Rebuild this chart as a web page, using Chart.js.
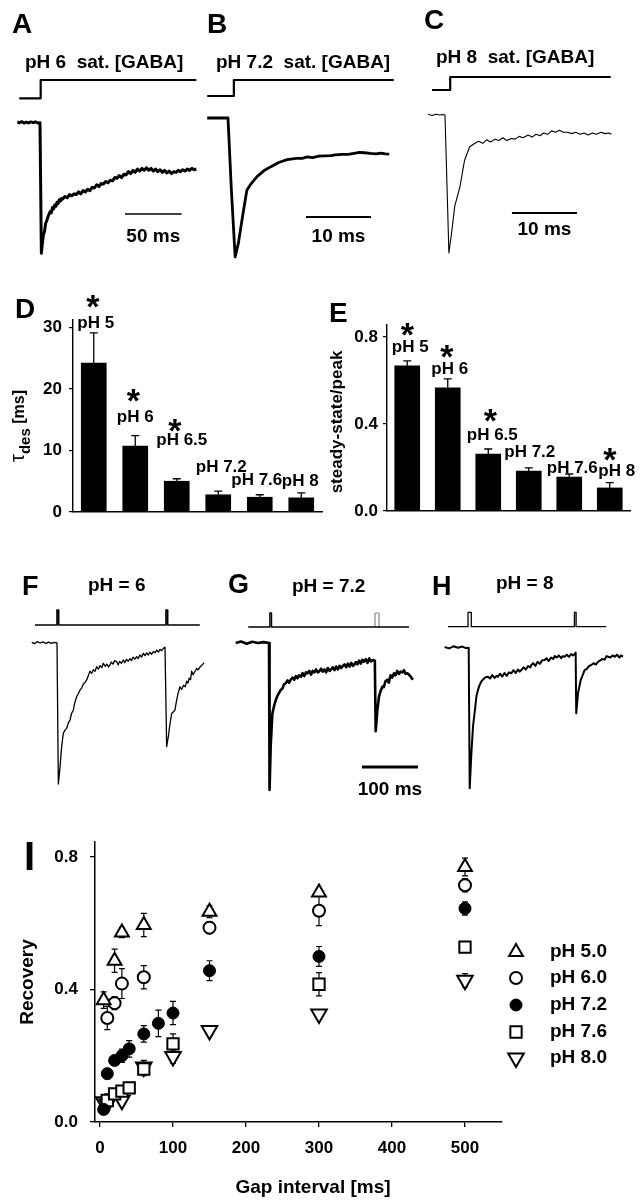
<!DOCTYPE html>
<html>
<head>
<meta charset="utf-8">
<title>GABA responses at different pH</title>
<script src="https://cdn.jsdelivr.net/npm/chart.js@4.4.1/dist/chart.umd.min.js"></script>
<style>
  html, body { margin: 0; padding: 0; background: #fff; }
  #page { position: relative; width: 642px; height: 1200px; overflow: hidden; background: #fff; }
  #page canvas { position: absolute; }
</style>
</head>
<body>
<div id="page"></div>
<script>
// ---- A-C: single responses (time in ms, current relative to peak) ----
const aTime = [-20,-18,-16,-14,-12,-10,-8,-6,-4,-2,0,1.2,2,3,4,5,6,7,8,9,10,11,12,13,14,15,16,17,18,19,20,
  22,24,26,28,30,32,34,36,38,40,42,44,46,48,50,52,54,56,58,60,62,64,66,68,70,72,74,76,78,80,
  82,84,86,88,90,92,94,96,98,100,102,104,106,108,110,112,114,116,118,120,122,124,126,128,130,132,134,136,138];
const aCurr = [0.005,0,0.008,-0.003,0.004,-0.002,0.006,0,0.007,-0.002,0,-1,
  -0.93,-0.86,-0.83,-0.77,-0.75,-0.72,-0.7,-0.68,-0.69,-0.65,-0.66,-0.63,-0.64,-0.61,-0.62,-0.59,-0.6,-0.58,-0.585,
  -0.565,-0.575,-0.55,-0.56,-0.545,-0.55,-0.53,-0.545,-0.52,-0.53,
  -0.51,-0.52,-0.495,-0.5,-0.475,-0.49,-0.465,-0.47,-0.45,-0.46,
  -0.44,-0.445,-0.42,-0.425,-0.405,-0.42,-0.395,-0.4,-0.375,-0.39,
  -0.365,-0.38,-0.355,-0.37,-0.35,-0.365,-0.345,-0.365,-0.35,-0.37,
  -0.355,-0.375,-0.36,-0.38,-0.365,-0.385,-0.37,-0.39,-0.375,-0.38,
  -0.365,-0.375,-0.36,-0.37,-0.355,-0.365,-0.35,-0.36,-0.355];
const aStimT = [-18.3, 0.6, 0.6, 138];
const aStimV = [0, 0, 1, 1];
const aBarT = [75, 125];
const aBarV = [-0.7, -0.7];

const bTime = [-3.2,-2.4,-1.6,-0.8,0, 0.5,1.1,1.6,2.2,2.9, 3.6,4.5,5.5,6.6,7.8, 9.1,10.5,11.4,12.2,13,
  14,14.9,15.8,16.5,17.5, 18.5,19.4,20.2,21,21.9, 22.8,23.5,24.2,24.8];
const bCurr = [0,0,0,0,0, -0.5,-1,-0.9,-0.72,-0.52, -0.47,-0.42,-0.38,-0.35,-0.32, -0.3,-0.29,-0.29,-0.28,-0.285,
  -0.275,-0.272,-0.27,-0.265,-0.262, -0.262,-0.255,-0.248,-0.25,-0.255, -0.258,-0.252,-0.258,-0.26];
const bStimT = [-3.2, 0.9, 0.9, 25.5];
const bStimV = [0, 0, 1, 1];
const bBarT = [12, 22];
const bBarV = [-0.712, -0.712];

const cTime = [-2.6,-2,-1.4,-0.8,-0.3,0, 0.6,1,1.5,2.3,3, 3.8,4.6,5.2,5.8,6.4, 7,7.7,8.3,8.9,9.5,
  10.2,10.8,11.4,12,12.8, 13.4,14,14.6,15.2,15.8, 16.4,17,17.6,18.2,18.8, 19.5,20.1,20.8,21.4,22,
  22.7,23.3,24,24.6,25.2,25.6];
const cCurr = [0.005,-0.003,0.006,0,0.004,0, -1,-0.86,-0.66,-0.52,-0.33, -0.23,-0.205,-0.19,-0.205,-0.18,
  -0.195,-0.175,-0.185,-0.165,-0.185, -0.17,-0.175,-0.155,-0.165,-0.145, -0.16,-0.14,-0.15,-0.13,-0.14,
  -0.115,-0.125,-0.11,-0.125,-0.125, -0.135,-0.125,-0.14,-0.13,-0.145, -0.13,-0.14,-0.125,-0.135,-0.13,-0.14];
const cStimT = [-2.0, 0.8, 0.8, 25.5];
const cStimV = [0, 0, 1, 1];
const cBarT = [10.3, 20.3];
const cBarV = [-0.71, -0.71];

// ---- D, E: bar summaries ----
const phLabels = ['pH 5', 'pH 6', 'pH 6.5', 'pH 7.2', 'pH 7.6', 'pH 8'];
const tauDes = [24.2, 10.7, 5.0, 2.8, 2.4, 2.3];
const tauSem = [4.9, 1.7, 0.4, 0.6, 0.4, 0.8];
const tauSig = [1, 1, 1, 0, 0, 0];
const tauTicks = [0, 10, 20, 30];
const ssPeak = [0.667, 0.566, 0.262, 0.184, 0.156, 0.106];
const ssSem = [0.023, 0.041, 0.023, 0.014, 0.014, 0.024];
const ssSig = [1, 1, 1, 0, 0, 1];
const ssTicks = [0, 0.4, 0.8];

// ---- F-H: paired pulses ----
const fTime = [-45,-40,-35,-30,-25,-20,-15,-10,-5,0, 2.4,5.4,8.3,11.3,14, 17.3,20,23.2,26,29.2,
  32,35.1,38,41.1,44, 47,50,53,56,58.9, 62,65,68,70.8,74, 77,80,82.7,86,89, 92,94.6,97,100,103,
  106.5,109,112,115,118.5, 121,124,127,130.4,133, 136,139,142.3,145,148, 151,154.2,157,160,163,
  166,169,172,175,178, 181,184,187,189.9,192.9, 195.8,198.8,201.5,204.8,207.5, 210.7,213,216,219.6,222.5,
  226,229,231.5,234,236, 238.5,240.5,243,245,247.5, 249.4,252,255.4,258,260.5,262.5];
const fCurr = [0.005,-0.005,0.01,0,0.008,-0.004,0.006,-0.002,0.004,0, -1,-0.88,-0.735,-0.64,-0.62,
  -0.605,-0.57,-0.546,-0.5,-0.475, -0.42,-0.38,-0.36,-0.333,-0.32, -0.29,-0.28,-0.262,-0.23,-0.2,
  -0.215,-0.19,-0.2,-0.168,-0.185, -0.16,-0.175,-0.144,-0.165,-0.15, -0.17,-0.156,-0.135,-0.15,-0.125,
  -0.132,-0.155,-0.13,-0.145,-0.12, -0.14,-0.115,-0.13,-0.11,-0.125, -0.1,-0.115,-0.097,-0.11,-0.085,
  -0.1,-0.073,-0.09,-0.07,-0.085, -0.065,-0.08,-0.06,-0.07,-0.05, -0.065,-0.045,-0.055,-0.038,-0.03,
  -0.735,-0.665,-0.58,-0.5,-0.49, -0.475,-0.42,-0.36,-0.31,-0.33, -0.3,-0.31,-0.27,-0.285,-0.25,
  -0.26,-0.2,-0.225,-0.21,-0.195, -0.18,-0.19,-0.17,-0.16,-0.15,-0.14];
const fStimT = [-39.3, 0, 0, 3, 3, 194.6, 194.6, 197.6, 197.6, 255];
const fStimV = [0, 0, 1, 1, 0, 0, 1, 1, 0, 0];

const gTime = [-59.5,-50,-40,-30,-20,-10,0, 1,3,6,9,11.9, 15,18,20.8,24,27, 29.8,33,36,38.7,42,
  45,48,51,53.6,57, 60,63,66,68.5,72, 75,78,81,84,87, 89.3,93,96,99,102, 105,108,110,114,117,
  120,123,126,129,131, 135,138,141,144,147, 150,151.8,155,158,161, 164,167,169.6,173,176,
  179,182,186,189,190.5, 193.5,196.4,199,202.4,205, 208,211.3,214,217,220, 223.2,226,229,232,235,
  238,241,244,247,250, 253,257];
const gCurr = [0,0.01,-0.005,0.008,0,0.006,0, -1,-0.705,-0.48,-0.43,-0.39, -0.36,-0.34,-0.32,-0.31,-0.28,
  -0.275,-0.255,-0.27,-0.25,-0.235, -0.25,-0.225,-0.24,-0.22,-0.23, -0.205,-0.225,-0.2,-0.206,-0.19,
  -0.215,-0.19,-0.2,-0.18,-0.2, -0.195,-0.175,-0.195,-0.18,-0.2, -0.17,-0.19,-0.184,-0.165,-0.185,
  -0.16,-0.18,-0.155,-0.17,-0.16, -0.145,-0.165,-0.14,-0.16,-0.135, -0.155,-0.15,-0.13,-0.145,-0.12,
  -0.14,-0.115,-0.127,-0.11,-0.135, -0.105,-0.125,-0.116,-0.12,-0.6, -0.456,-0.365,-0.33,-0.297,-0.3,
  -0.26,-0.25,-0.27,-0.22,-0.235, -0.206,-0.22,-0.19,-0.21,-0.195, -0.2,-0.185,-0.21,-0.206,-0.215, -0.23,-0.25];
const gStimT = [-37, 1.5, 1.5, 4.5, 4.5, 250];
const gStimV = [0, 0, 1, 1, 0, 0];
const gStim2T = [189.3, 189.3, 196.4, 196.4];
const gStim2V = [0, 1, 1, 0];
const gBarT = [166, 266];
const gBarV = [-0.844, -0.844];

const hTime = [-43,-35,-27,-19,-11,-5,0, 1.8,4.8,7.7,11.8,14, 16.6,19,22.6,26,30, 34.5,38,42,46,50,
  52.3,56,60,64,68, 72,76,80,84,88, 91,94,98,102,106, 110,111.8,115,119,123, 127,131,135.7,139,143,
  147,151,153.6,157,161, 165,168,171.4,175,179, 183,186,189.3,191,192, 195.2,198,200,203,207,
  211,215,219,223,227, 231,235,239,243,246, 249,253,257,261,265, 269,272,275.5];
const hCurr = [0.005,-0.005,0.01,0,0.008,-0.003,0, -1,-0.75,-0.56,-0.42,-0.34, -0.3,-0.27,-0.24,-0.225,-0.21,
  -0.206,-0.22,-0.195,-0.215,-0.2, -0.206,-0.185,-0.205,-0.18,-0.2, -0.175,-0.182,-0.16,-0.18,-0.155,
  -0.17,-0.159,-0.14,-0.155,-0.13, -0.14,-0.123,-0.11,-0.13,-0.1, -0.115,-0.09,-0.088,-0.075,-0.095,
  -0.07,-0.08,-0.059,-0.07,-0.055, -0.075,-0.06,-0.064,-0.05,-0.065, -0.045,-0.055,-0.045,-0.035,-0.467,
  -0.324,-0.27,-0.23,-0.2,-0.159, -0.15,-0.13,-0.123,-0.11,-0.12, -0.1,-0.09,-0.08,-0.085,-0.06,
  -0.064,-0.07,-0.055,-0.065,-0.05, -0.07,-0.055,-0.064];
const hStimT = [-37, -1.2, -1.2, 4.6, 4.6, 188.8, 188.8, 191.8, 191.8, 245.7];
const hStimV = [0, 0, 1, 1, 0, 0, 1, 1, 0, 0];

// ---- I: recovery vs gap interval ----
const gap50 = [5, 20, 30, 60, 150, 300, 500];
const rec50 = [0.368, 0.487, 0.572, 0.595, 0.635, 0.693, 0.770];
const sem50 = [0.025, 0.035, 0.015, 0.035, 0.018, 0.012, 0.027];
const gap60 = [10, 20, 30, 60, 150, 300, 500];
const rec60 = [0.314, 0.359, 0.418, 0.437, 0.587, 0.638, 0.715];
const sem60 = [0.035, 0.02, 0.045, 0.035, 0.018, 0.045, 0.02];
const gap72 = [5, 10, 20, 30, 40, 60, 80, 100, 150, 300, 500];
const rec72 = [0.038, 0.146, 0.186, 0.2, 0.221, 0.266, 0.298, 0.329, 0.457, 0.5, 0.645];
const sem72 = [0.015, 0.015, 0.01, 0.02, 0.025, 0.025, 0.04, 0.035, 0.03, 0.03, 0.02];
const gap76 = [10, 20, 30, 40, 60, 100, 300, 500];
const rec76 = [0.065, 0.085, 0.093, 0.103, 0.16, 0.236, 0.416, 0.528];
const sem76 = [0.02, 0.01, 0.01, 0.01, 0.02, 0.03, 0.035, 0.01];
const gap80 = [5, 10, 30, 60, 100, 150, 300, 500];
const rec80 = [0.061, 0.055, 0.066, 0.166, 0.198, 0.276, 0.326, 0.428];
const sem80 = [0.02, 0.02, 0.015, 0.02, 0.02, 0.01, 0.01, 0.02];
const gapTicks = [0, 100, 200, 300, 400, 500];
const recTicks = [0, 0.4, 0.8];

// ---------------------------------------------------------------
const FONT = "'Liberation Sans', Arial, Helvetica, sans-serif";
const page = document.getElementById('page');
Chart.defaults.font.family = FONT;
Chart.defaults.color = '#000';
Chart.defaults.animation = false;
Chart.defaults.events = [];
Chart.defaults.plugins.legend.display = false;
Chart.defaults.plugins.tooltip.enabled = false;
Chart.defaults.layout.autoPadding = false;

function font(size, weight) { return (weight || 'bold') + ' ' + size + 'px ' + FONT; }
const fixTicks = vals => s => { s.ticks = vals.map(v => ({ value: v })); };

function addCanvas(box) {
  const cv = document.createElement('canvas');
  cv.width = box.w; cv.height = box.h;
  cv.style.left = box.x + 'px'; cv.style.top = box.y + 'px';
  cv.style.width = box.w + 'px'; cv.style.height = box.h + 'px';
  page.appendChild(cv);
  return cv;
}

// t: {text, x, y, size, weight, align, base, rot} in page coordinates
function drawText(ctx, box, t) {
  ctx.save();
  ctx.fillStyle = '#000';
  ctx.font = font(t.size, t.weight);
  ctx.textAlign = t.align || 'left';
  ctx.textBaseline = t.base || 'alphabetic';
  ctx.translate(t.x - box.x, t.y - box.y);
  if (t.rot) ctx.rotate(-Math.PI / 2);
  ctx.fillText(t.text, 0, 0);
  ctx.restore();
}

// trace panels: cal maps time/current onto the page
function tracePanel(p) {
  const box = p.box, cal = p.cal;
  const cv = addCanvas(box);
  const datasets = p.lines.map(l => ({
    data: l.t.map((t, i) => ({ x: t, y: l.v[i] })),
    yAxisID: l.stim ? 'ys' : 'y',
    borderColor: l.color || '#000',
    borderWidth: l.w,
    pointRadius: 0,
    tension: 0,
    fill: false,
    borderJoinStyle: 'round'
  }));
  new Chart(cv, {
    type: 'line',
    data: { datasets },
    options: {
      responsive: false,
      layout: { padding: 0 },
      scales: {
        x: { type: 'linear', display: false, min: (box.x - cal.x0) / cal.k, max: (box.x + box.w - cal.x0) / cal.k },
        y: { type: 'linear', display: false, min: -(box.y + box.h - cal.y0) / cal.s, max: (cal.y0 - box.y) / cal.s },
        ys: { type: 'linear', display: false, min: -(box.y + box.h - cal.yb) / cal.h, max: (cal.yb - box.y) / cal.h }
      }
    },
    plugins: [{
      id: 'traceText',
      afterDraw(chart) {
        const ctx = chart.ctx;
        p.texts.forEach(t => drawText(ctx, box, t));
        if (p.bar) {
          const xs = chart.scales.x, ys = chart.scales.y;
          const cx = (xs.getPixelForValue(p.bar.t[0]) + xs.getPixelForValue(p.bar.t[1])) / 2;
          const cy = ys.getPixelForValue(p.bar.v[0]) + p.bar.dy;
          drawText(ctx, { x: 0, y: 0 }, { text: p.bar.label, x: cx, y: cy, size: 19, align: 'center' });
        }
      }
    }]
  });
}

tracePanel({
  box: { x: 0, y: 0, w: 214, h: 265 },
  cal: { x0: 40, k: 1.133, y0: 122.7, s: 130.6, yb: 98.3, h: 18.3 },
  lines: [
    { t: aTime, v: aCurr, w: 3 },
    { t: aStimT, v: aStimV, w: 2.2, stim: true },
    { t: aBarT, v: aBarV, w: 1.5 }
  ],
  bar: { t: aBarT, v: aBarV, dy: 28, label: '50 ms' },
  texts: [
    { text: 'A', x: 12, y: 33, size: 28 },
    { text: 'pH 6  sat. [GABA]', x: 25, y: 68, size: 19 }
  ]
});
tracePanel({
  box: { x: 200, y: 0, w: 228, h: 265 },
  cal: { x0: 228, k: 6.5, y0: 118, s: 139, yb: 96, h: 16 },
  lines: [
    { t: bTime, v: bCurr, w: 2.8 },
    { t: bStimT, v: bStimV, w: 2.2, stim: true },
    { t: bBarT, v: bBarV, w: 2 }
  ],
  bar: { t: bBarT, v: bBarV, dy: 25, label: '10 ms' },
  texts: [
    { text: 'B', x: 207, y: 33, size: 28 },
    { text: 'pH 7.2  sat. [GABA]', x: 216, y: 68, size: 19 }
  ]
});
tracePanel({
  box: { x: 420, y: 0, w: 222, h: 265 },
  cal: { x0: 445, k: 6.5, y0: 115, s: 138, yb: 90, h: 13 },
  lines: [
    { t: cTime, v: cCurr, w: 1.1 },
    { t: cStimT, v: cStimV, w: 2.2, stim: true },
    { t: cBarT, v: cBarV, w: 2 }
  ],
  bar: { t: cBarT, v: cBarV, dy: 22, label: '10 ms' },
  texts: [
    { text: 'C', x: 424, y: 29, size: 28 },
    { text: 'pH 8  sat. [GABA]', x: 436, y: 63, size: 19 }
  ]
});

tracePanel({
  box: { x: 0, y: 560, w: 214, h: 240 },
  cal: { x0: 57, k: 0.56, y0: 643, s: 141, yb: 625, h: 15 },
  lines: [
    { t: fTime, v: fCurr, w: 1.3 },
    { t: fStimT, v: fStimV, w: 1.6, stim: true }
  ],
  texts: [
    { text: 'F', x: 22, y: 595, size: 27 },
    { text: 'pH = 6', x: 88, y: 591, size: 19 }
  ]
});
tracePanel({
  box: { x: 214, y: 560, w: 214, h: 240 },
  cal: { x0: 269, k: 0.56, y0: 643, s: 147, yb: 627, h: 14 },
  lines: [
    { t: gTime, v: gCurr, w: 2.6 },
    { t: gStimT, v: gStimV, w: 1.4, stim: true },
    { t: gStim2T, v: gStim2V, w: 1.2, stim: true, color: '#888' },
    { t: gBarT, v: gBarV, w: 3 }
  ],
  bar: { t: gBarT, v: gBarV, dy: 28, label: '100 ms' },
  texts: [
    { text: 'G', x: 228, y: 593, size: 27 },
    { text: 'pH = 7.2', x: 292, y: 592, size: 19 }
  ]
});
tracePanel({
  box: { x: 428, y: 560, w: 214, h: 240 },
  cal: { x0: 468.7, k: 0.56, y0: 647.7, s: 140.6, yb: 626.7, h: 14.4 },
  lines: [
    { t: hTime, v: hCurr, w: 2 },
    { t: hStimT, v: hStimV, w: 1.3, stim: true }
  ],
  texts: [
    { text: 'H', x: 432, y: 595, size: 27 },
    { text: 'pH = 8', x: 496, y: 589, size: 19 }
  ]
});

// bar panels D and E
function barPanel(p) {
  const box = p.box;
  const cv = addCanvas(box);
  new Chart(cv, {
    type: 'bar',
    data: { labels: phLabels, datasets: [{ data: p.values, backgroundColor: '#000', borderWidth: 0, barThickness: 25 }] },
    options: {
      responsive: false,
      layout: { padding: { top: p.pad.top, right: p.pad.right, bottom: p.pad.bottom, left: 0 } },
      scales: {
        x: {
          grid: { display: false }, ticks: { display: false },
          border: { color: '#000', width: 1.4 },
          afterFit: s => { s.height = 0; }
        },
        y: {
          min: 0, max: p.max,
          afterBuildTicks: fixTicks(p.ticks),
          ticks: { padding: p.tickPad, font: { size: 17, weight: 'bold' }, color: '#000', callback: p.fmt },
          grid: { drawOnChartArea: false, drawTicks: true, tickLength: 4, color: '#000', lineWidth: 1.2 },
          border: { color: '#000', width: 1.4 },
          afterFit: s => { s.width = p.axisW; }
        }
      }
    },
    plugins: [{
      id: 'barDecor',
      afterDraw(chart) {
        const ctx = chart.ctx, ys = chart.scales.y;
        const bars = chart.getDatasetMeta(0).data;
        ctx.save();
        ctx.strokeStyle = '#000';
        ctx.lineWidth = 1.3;
        bars.forEach((bar, i) => {
          const x = bar.x;
          const yTop = ys.getPixelForValue(p.values[i]);
          const yErr = ys.getPixelForValue(p.values[i] + p.sem[i]);
          ctx.beginPath();
          ctx.moveTo(x, yTop); ctx.lineTo(x, yErr);
          ctx.moveTo(x - 4, yErr); ctx.lineTo(x + 4, yErr);
          ctx.stroke();
          drawText(ctx, { x: 0, y: 0 }, { text: phLabels[i], x: x + p.labDx[i], y: ys.getPixelForValue(p.labY[i]), size: 17, align: 'center', base: 'middle' });
          if (p.sig[i]) {
            drawText(ctx, { x: 0, y: 0 }, { text: '*', x: x + p.starDx[i], y: ys.getPixelForValue(p.starY[i]) + 19, size: 34, align: 'center' });
          }
        });
        ctx.restore();
        p.texts.forEach(t => drawText(ctx, box, t));
        if (p.draw) p.draw(ctx, box);
      }
    }]
  });
}

barPanel({
  box: { x: 0, y: 270, w: 330, h: 260 },
  values: tauDes, sem: tauSem, sig: tauSig, ticks: tauTicks,
  axisW: 73, pad: { top: 50, right: 8, bottom: 18 },
  max: 31.2, tickPad: 7, fmt: v => String(v),
  labY: [30.7, 15.4, 11.7, 7.3, 5.2, 5.0], labDx: [2, 0, 5, 3, -3, -1],
  starY: [34.6, 19.3, 14.5, 0, 0, 0], starDx: [-1, -2, -2, 0, 0, 0],
  texts: [{ text: 'D', x: 15, y: 318, size: 28 }],
  draw(ctx, box) {
    ctx.save();
    ctx.fillStyle = '#000';
    ctx.translate(24 - box.x, 462 - box.y);
    ctx.rotate(-Math.PI / 2);
    ctx.font = font(20, 'normal');
    ctx.fillText('τ', 0, 0);
    let w = ctx.measureText('τ').width;
    ctx.font = font(15);
    ctx.fillText('des', w, 6);
    w += ctx.measureText('des').width;
    ctx.font = font(16);
    ctx.fillText(' [ms]', w, 0);
    ctx.restore();
  }
});

barPanel({
  box: { x: 322, y: 270, w: 320, h: 260 },
  values: ssPeak, sem: ssSem, sig: ssSig, ticks: ssTicks,
  axisW: 65, pad: { top: 55, right: 12, bottom: 19 },
  max: 0.855, tickPad: 5, fmt: v => v.toFixed(1),
  labY: [0.754, 0.653, 0.349, 0.271, 0.198, 0.184], labDx: [3, 2, 4, 1, 3, 7],
  starY: [0.846, 0.745, 0.45, 0, 0, 0.271], starDx: [0, -1, 2, 0, 0, 0],
  texts: [
    { text: 'E', x: 329, y: 322, size: 28 },
    { text: 'steady-state/peak', x: 342, y: 422, size: 17, rot: true, align: 'center' }
  ]
});

// panel I
const recSeries = [
  { name: 'pH 5.0', gap: gap50, rec: rec50, sem: sem50, style: 'triangle', rot: 0, r: 8, fill: '#fff', bw: 2 },
  { name: 'pH 6.0', gap: gap60, rec: rec60, sem: sem60, style: 'circle', rot: 0, r: 6, fill: '#fff', bw: 2 },
  { name: 'pH 7.2', gap: gap72, rec: rec72, sem: sem72, style: 'circle', rot: 0, r: 6, fill: '#000', bw: 1 },
  { name: 'pH 7.6', gap: gap76, rec: rec76, sem: sem76, style: 'rect', rot: 0, r: 8, fill: '#fff', bw: 2 },
  { name: 'pH 8.0', gap: gap80, rec: rec80, sem: sem80, style: 'triangle', rot: 180, r: 9, fill: '#fff', bw: 2 }
];
(function () {
  const box = { x: 0, y: 820, w: 642, h: 380 };
  const cv = addCanvas(box);
  const tickFont = { size: 17, weight: 'bold' };
  new Chart(cv, {
    type: 'scatter',
    data: {
      datasets: recSeries.map(s => ({
        label: s.name,
        data: s.gap.map((g, i) => ({ x: g, y: s.rec[i] })),
        pointStyle: s.style, pointRotation: s.rot, pointRadius: s.r,
        backgroundColor: s.fill, borderColor: '#000', borderWidth: s.bw
      }))
    },
    options: {
      responsive: false,
      layout: { padding: { top: 20, right: 140, bottom: 0, left: 0 } },
      scales: {
        x: {
          type: 'linear', min: -6.85, max: 550.7,
          afterBuildTicks: fixTicks(gapTicks),
          ticks: { padding: 11, font: tickFont, color: '#000' },
          grid: { drawOnChartArea: false, drawTicks: true, tickLength: 5, color: '#000', lineWidth: 1.3 },
          border: { color: '#000', width: 1.5 },
          afterFit: s => { s.height = 78; }
        },
        y: {
          type: 'linear', min: 0, max: 0.845,
          afterBuildTicks: fixTicks(recTicks),
          ticks: { padding: 12, font: tickFont, color: '#000', callback: v => v.toFixed(1) },
          grid: { drawOnChartArea: false, drawTicks: true, tickLength: 5, color: '#000', lineWidth: 1.3 },
          border: { color: '#000', width: 1.5 },
          afterFit: s => { s.width = 95; }
        }
      }
    },
    plugins: [{
      id: 'recDecor',
      beforeDatasetsDraw(chart) {
        const ctx = chart.ctx, xs = chart.scales.x, ys = chart.scales.y;
        ctx.save();
        ctx.strokeStyle = '#000';
        ctx.lineWidth = 1.2;
        recSeries.forEach(s => s.gap.forEach((g, i) => {
          const x = xs.getPixelForValue(g);
          const y1 = ys.getPixelForValue(s.rec[i] + s.sem[i]);
          const y2 = ys.getPixelForValue(s.rec[i] - s.sem[i]);
          ctx.beginPath();
          ctx.moveTo(x, y1); ctx.lineTo(x, y2);
          ctx.moveTo(x - 3, y1); ctx.lineTo(x + 3, y1);
          ctx.moveTo(x - 3, y2); ctx.lineTo(x + 3, y2);
          ctx.stroke();
        }));
        ctx.restore();
      },
      afterDraw(chart) {
        const ctx = chart.ctx;
        drawText(ctx, box, { text: 'I', x: 24, y: 870, size: 40 });
        drawText(ctx, box, { text: 'Recovery', x: 33, y: 982, size: 19, rot: true, align: 'center' });
        drawText(ctx, box, { text: 'Gap interval [ms]', x: 313, y: 1193, size: 19, align: 'center' });
        const legY = [952, 978, 1005, 1032, 1058];
        recSeries.forEach((s, i) => {
          ctx.save();
          ctx.fillStyle = s.fill;
          ctx.strokeStyle = '#000';
          ctx.lineWidth = s.bw;
          Chart.helpers.drawPoint(ctx, { pointStyle: s.style, radius: s.r, rotation: s.rot, borderWidth: s.bw }, 516 - box.x, legY[i] - box.y);
          ctx.restore();
          drawText(ctx, box, { text: s.name, x: 550, y: legY[i], size: 19, base: 'middle' });
        });
      }
    }]
  });
})();
</script>
</body>
</html>
